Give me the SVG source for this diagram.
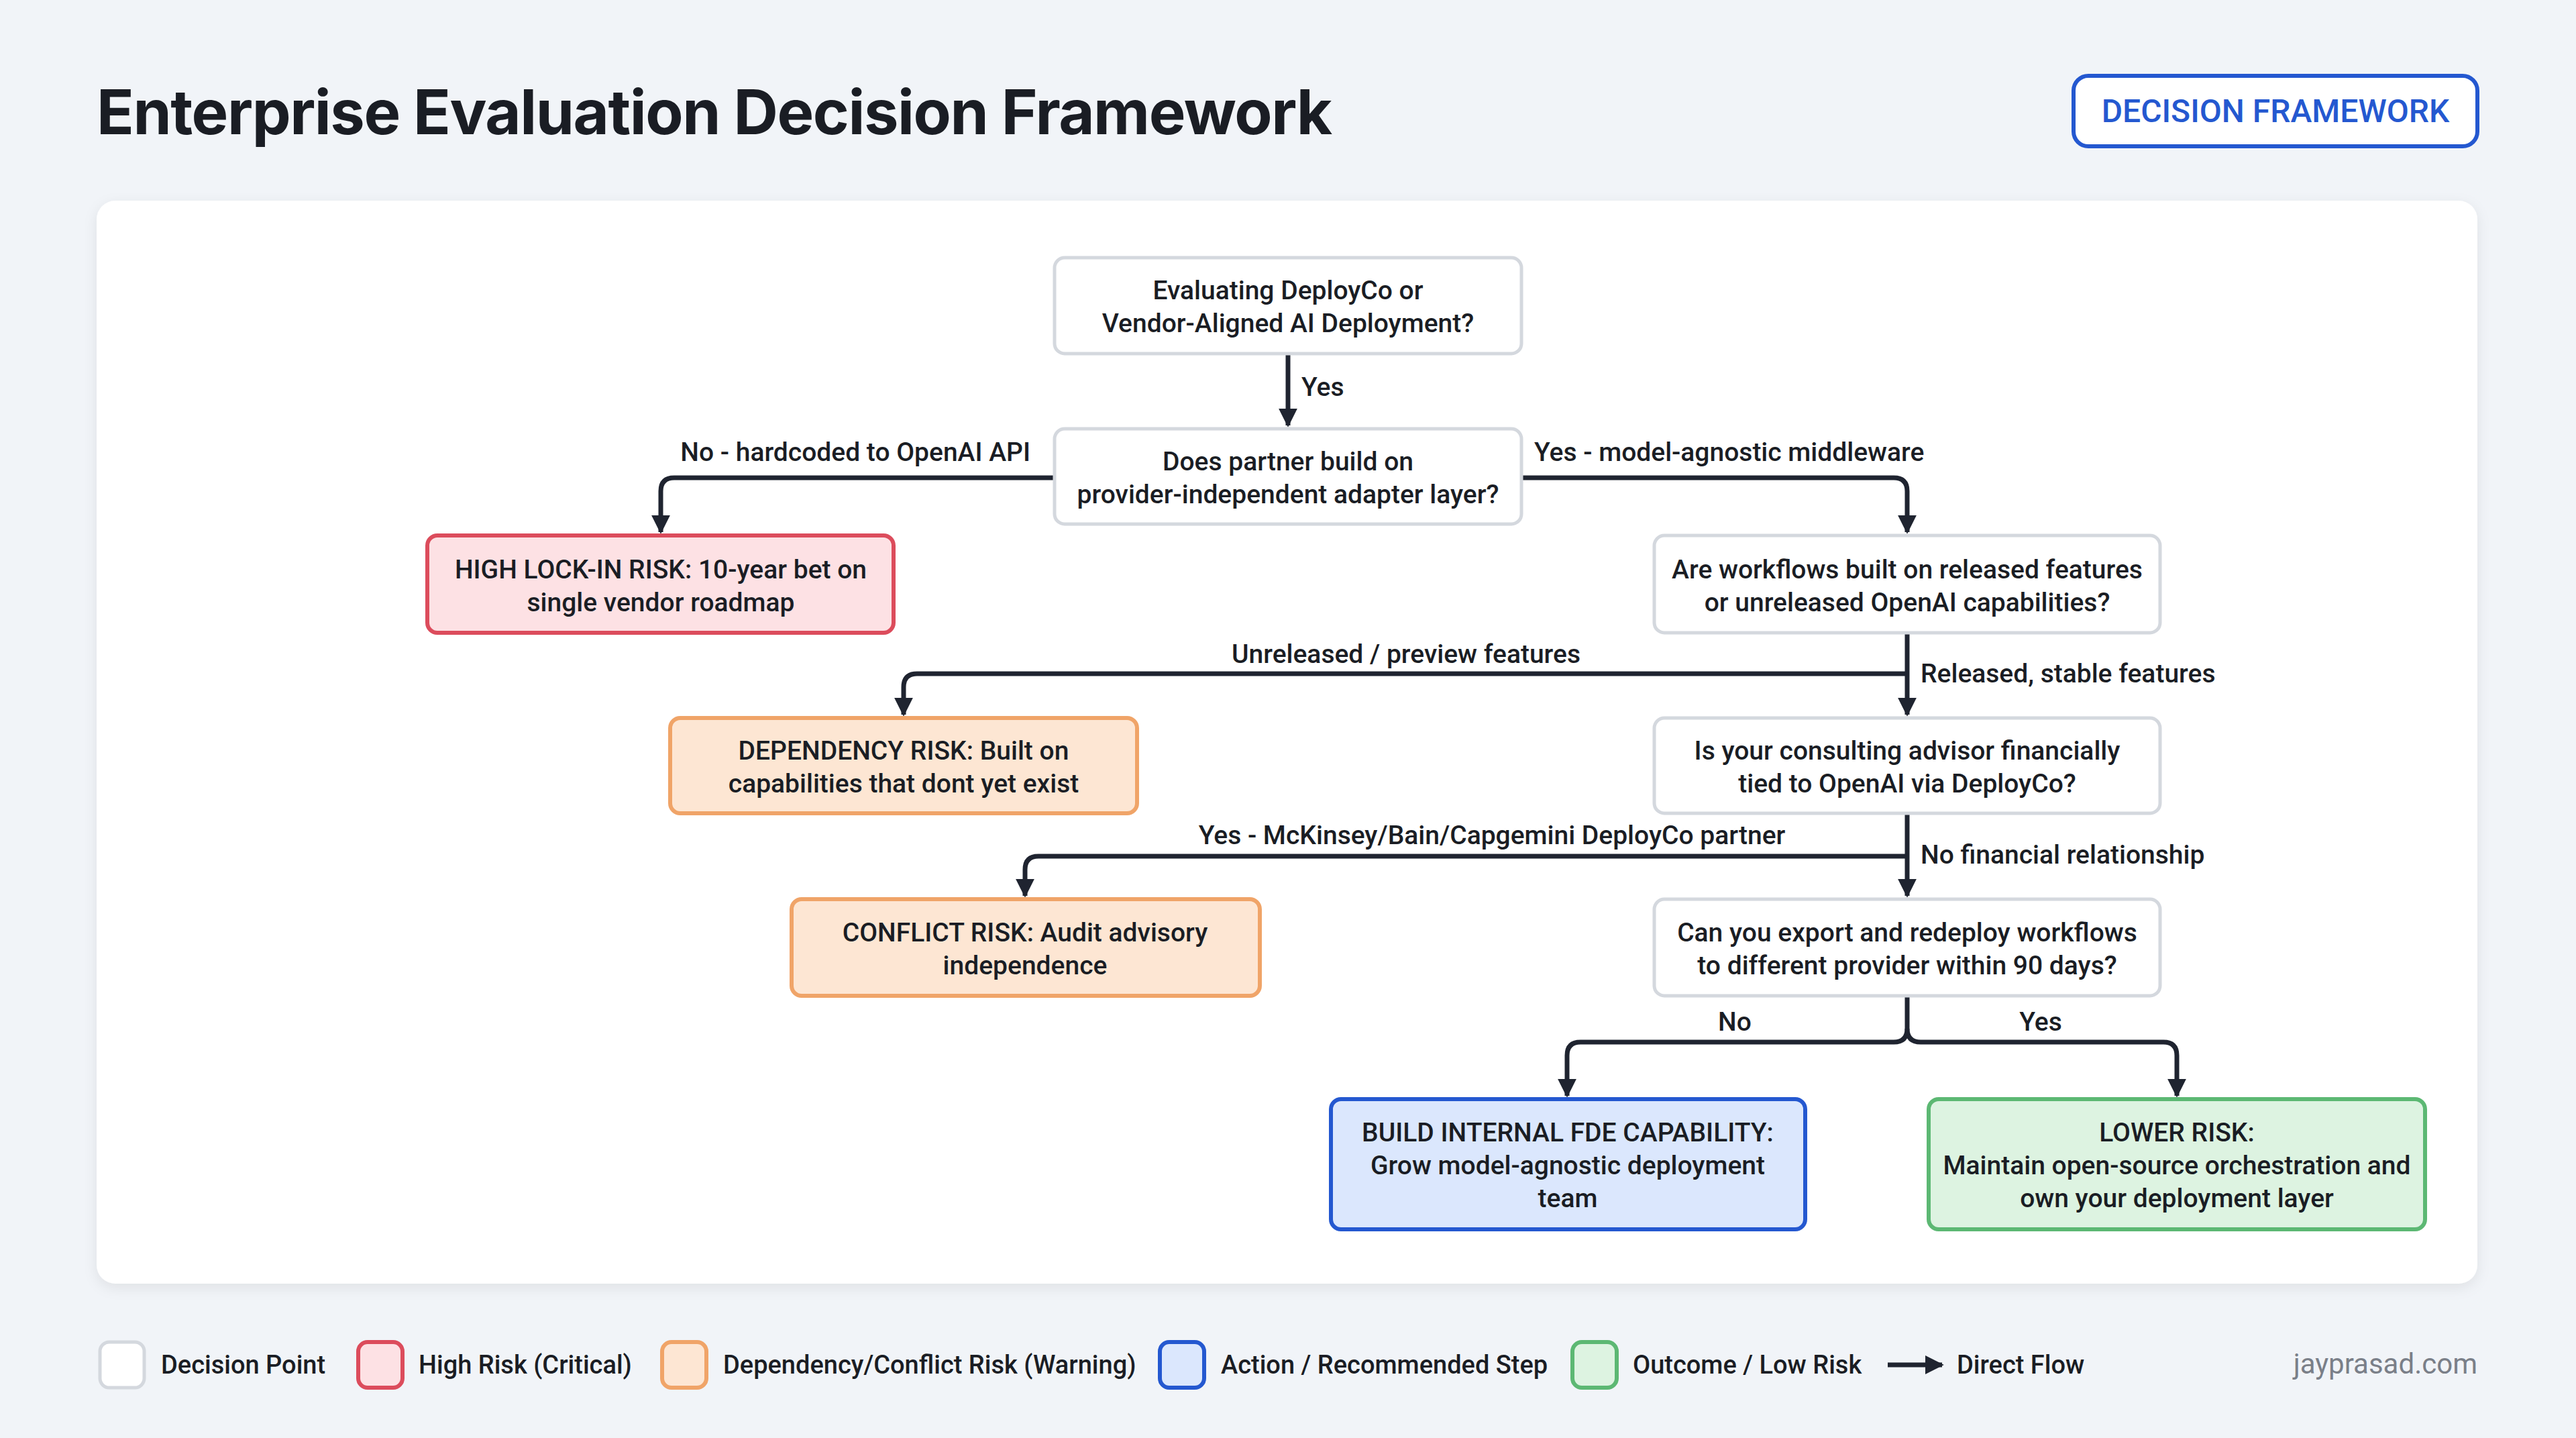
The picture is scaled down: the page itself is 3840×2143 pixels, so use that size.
<svg xmlns="http://www.w3.org/2000/svg" width="3840" height="2143" viewBox="0 0 3840 2143">
<defs>
<marker id="ah" viewBox="0 0 10 10" refX="9" refY="5" markerWidth="4" markerHeight="4" markerUnits="strokeWidth" orient="auto"><path d="M0,0 L10,5 L0,10 z" fill="#1f2430"/></marker>
<filter id="sh" x="-5%" y="-5%" width="110%" height="110%"><feDropShadow dx="0" dy="6" stdDeviation="10" flood-color="#000" flood-opacity="0.08"/></filter>
</defs>
<style>
text{font-family:Roboto,"Liberation Sans",sans-serif;fill:#1a1d24}
.nt{font-size:39px;font-weight:500;text-anchor:middle}
.el{font-size:39px;font-weight:500}
.lg{font-size:38px;font-weight:500}
.dec{fill:#fff;stroke:#d4d8de;stroke-width:5}
.red{fill:#fde1e4;stroke:#dc4c5c;stroke-width:6}
.org{fill:#fde6d3;stroke:#f0a468;stroke-width:6}
.blu{fill:#dbe7fd;stroke:#2458d0;stroke-width:6}
.grn{fill:#ddf3e1;stroke:#5cb873;stroke-width:6}
.cn{fill:none;stroke:#1f2430;stroke-width:7;marker-end:url(#ah);stroke-linejoin:round}
</style>
<rect width="3840" height="2143" fill="#f1f4f8"/>
<text x="144" y="200" style="font-family:Inter,'Liberation Sans',sans-serif;font-size:92px;font-weight:700" textLength="1842">Enterprise Evaluation Decision Framework</text>
<rect x="3091" y="113" width="602" height="105" rx="22" fill="#fff" stroke="#2458d0" stroke-width="6"/>
<text x="3392" y="182" style="font-size:48px;font-weight:500;fill:#2458d0;text-anchor:middle">DECISION FRAMEWORK</text>
<rect x="144" y="299" width="3549" height="1614" rx="28" fill="#fff" filter="url(#sh)"/>

<g id="connectors">
<path class="cn" d="M1920,527 V634"/>
<path class="cn" d="M1572,712 H1005 Q985,712 985,732 V793"/>
<path class="cn" d="M2268,712 H2823 Q2843,712 2843,732 V793"/>
<path class="cn" d="M2843,943 V1065"/>
<path class="cn" d="M2843,1004 H1367 Q1347,1004 1347,1024 V1065"/>
<path class="cn" d="M2843,1212 V1335"/>
<path class="cn" d="M2843,1276 H1548 Q1528,1276 1528,1296 V1335"/>
<path class="cn" d="M2843,1484 V1533 Q2843,1553 2823,1553 H2356 Q2336,1553 2336,1573 V1633"/>
<path class="cn" d="M2843,1533 Q2843,1553 2863,1553 H3225 Q3245,1553 3245,1573 V1633"/>
<text class="el" x="1940" y="590">Yes</text>
<text class="el" x="1536" y="687" text-anchor="end">No - hardcoded to OpenAI API</text>
<text class="el" x="2287" y="687">Yes - model-agnostic middleware</text>
<text class="el" x="2096" y="988" text-anchor="middle">Unreleased / preview features</text>
<text class="el" x="2863" y="1017">Released, stable features</text>
<text class="el" x="2224" y="1258" text-anchor="middle">Yes - McKinsey/Bain/Capgemini DeployCo partner</text>
<text class="el" x="2863" y="1287">No financial relationship</text>
<text class="el" x="2586" y="1536" text-anchor="middle">No</text>
<text class="el" x="3042" y="1536" text-anchor="middle">Yes</text>
</g>

<g id="n1"><rect class="dec" x="1572" y="384" width="696" height="143" rx="15"/>
<text class="nt" x="1920" y="446">Evaluating DeployCo or</text><text class="nt" x="1920" y="495">Vendor-Aligned AI Deployment?</text></g>
<g id="n2"><rect class="dec" x="1572" y="639" width="696" height="142" rx="15"/>
<text class="nt" x="1920" y="701">Does partner build on</text><text class="nt" x="1920" y="750">provider-independent adapter layer?</text></g>
<g id="lockin"><rect class="red" x="637" y="798" width="695" height="145" rx="15"/>
<text class="nt" x="985" y="862">HIGH LOCK-IN RISK: 10-year bet on</text><text class="nt" x="985" y="911">single vendor roadmap</text></g>
<g id="q3"><rect class="dec" x="2466" y="798" width="754" height="145" rx="15"/>
<text class="nt" x="2843" y="862">Are workflows built on released features</text><text class="nt" x="2843" y="911">or unreleased OpenAI capabilities?</text></g>
<g id="dep"><rect class="org" x="999" y="1070" width="696" height="142" rx="15"/>
<text class="nt" x="1347" y="1132">DEPENDENCY RISK: Built on</text><text class="nt" x="1347" y="1181">capabilities that dont yet exist</text></g>
<g id="q4"><rect class="dec" x="2466" y="1070" width="754" height="142" rx="15"/>
<text class="nt" x="2843" y="1132">Is your consulting advisor financially</text><text class="nt" x="2843" y="1181">tied to OpenAI via DeployCo?</text></g>
<g id="conflict"><rect class="org" x="1180" y="1340" width="698" height="144" rx="15"/>
<text class="nt" x="1528" y="1403">CONFLICT RISK: Audit advisory</text><text class="nt" x="1528" y="1452">independence</text></g>
<g id="q5"><rect class="dec" x="2466" y="1340" width="754" height="144" rx="15"/>
<text class="nt" x="2843" y="1403">Can you export and redeploy workflows</text><text class="nt" x="2843" y="1452">to different provider within 90 days?</text></g>
<g id="build"><rect class="blu" x="1984" y="1638" width="707" height="194" rx="15"/>
<text class="nt" x="2337" y="1701">BUILD INTERNAL FDE CAPABILITY:</text><text class="nt" x="2337" y="1750">Grow model-agnostic deployment</text><text class="nt" x="2337" y="1799">team</text></g>
<g id="lower"><rect class="grn" x="2875" y="1638" width="740" height="194" rx="15"/>
<text class="nt" x="3245" y="1701">LOWER RISK:</text><text class="nt" x="3245" y="1750">Maintain open-source orchestration and</text><text class="nt" x="3245" y="1799">own your deployment layer</text></g>

<g id="legend">
<rect class="dec" x="149" y="2000" width="66" height="68" rx="14"/>
<text class="lg" x="240" y="2047">Decision Point</text>
<rect class="red" x="534" y="2000" width="66" height="68" rx="14"/>
<text class="lg" x="624" y="2047">High Risk (Critical)</text>
<rect class="org" x="987" y="2000" width="66" height="68" rx="14"/>
<text class="lg" x="1078" y="2047">Dependency/Conflict Risk (Warning)</text>
<rect class="blu" x="1729" y="2000" width="66" height="68" rx="14"/>
<text class="lg" x="1820" y="2047">Action / Recommended Step</text>
<rect class="grn" x="2344" y="2000" width="66" height="68" rx="14"/>
<text class="lg" x="2434" y="2047">Outcome / Low Risk</text>
<path class="cn" d="M2814,2034 H2895"/>
<text class="lg" x="2917" y="2047">Direct Flow</text>
<text x="3693" y="2047" style="font-size:42px;fill:#7a7f88;text-anchor:end">jayprasad.com</text>
</g>
</svg>
